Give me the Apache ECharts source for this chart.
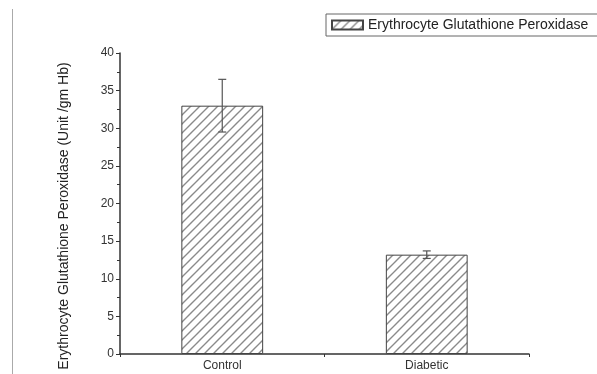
<!DOCTYPE html>
<html>
<head>
<meta charset="utf-8">
<script src="https://cdn.jsdelivr.net/npm/echarts@6/dist/echarts.min.js"></script>
<style>
  html, body { margin: 0; padding: 0; background: #fff; }
  #chart { width: 597px; height: 374px; }
</style>
</head>
<body>
<div id="chart"></div>
<script>
// Enzyme activity per group, with standard deviation
const categories = ['Control', 'Diabetic'];
const meanValues = [33.0, 13.2];
const errorValues = [3.5, 0.5];
const seriesName = 'Erythrocyte Glutathione Peroxidase';
const yAxisTitle = 'Erythrocyte Glutathione Peroxidase (Unit /gm Hb)';
const yTicks = [0, 5, 10, 15, 20, 25, 30, 35, 40];

// Diagonal "/" hatch tile used as the bar fill
function makeHatch() {
  const s = 9;
  const c = document.createElement('canvas');
  c.width = s; c.height = s;
  const g = c.getContext('2d');
  g.fillStyle = '#fff';
  g.fillRect(0, 0, s, s);
  g.strokeStyle = '#8a8a8a';
  g.lineWidth = 1.4;
  g.beginPath();
  g.moveTo(-1, s + 1); g.lineTo(s + 1, -1);
  g.moveTo(-1, 1); g.lineTo(1, -1);
  g.moveTo(s - 1, s + 1); g.lineTo(s + 1, s - 1);
  g.stroke();
  return { image: c, repeat: 'repeat' };
}
const hatch = makeHatch();

const chart = echarts.init(document.getElementById('chart'), null, { renderer: 'canvas' });

const errorData = categories.map((c, i) => [i, meanValues[i] - errorValues[i], meanValues[i] + errorValues[i]]);

chart.setOption({
  animation: false,
  textStyle: { fontFamily: 'Liberation Sans, Arial, sans-serif' },
  grid: { left: 120, right: 68, top: 53, bottom: 20 },
  legend: {
    left: 326,
    top: 14,
    data: [{ name: seriesName, icon: 'rect' }],
    itemWidth: 31,
    itemHeight: 9,
    itemGap: 5,
    padding: [4, 12, 4, 5],
    borderColor: '#666',
    borderWidth: 1,
    borderRadius: 0,
    textStyle: { fontSize: 14, color: '#222' }
  },
  xAxis: [
    {
      type: 'category',
      data: categories,
      axisLine: { lineStyle: { color: '#333', width: 1.5 } },
      axisTick: { alignWithLabel: true, length: 5, inside: false, lineStyle: { color: '#333' } },
      axisLabel: { fontSize: 12, color: '#333', margin: 6 },
      splitLine: { show: false }
    },
    {
      // companion axis carrying the short boundary ticks between groups
      type: 'category',
      data: categories,
      position: 'bottom',
      offset: 0,
      axisLine: { show: false },
      axisTick: { show: true, interval: 0, length: 3, lineStyle: { color: '#333' } },
      axisLabel: { show: false },
      splitLine: { show: false }
    }
  ],
  yAxis: {
    type: 'value',
    min: yTicks[0],
    max: yTicks[yTicks.length - 1],
    interval: yTicks[1] - yTicks[0],
    axisLine: { show: true, lineStyle: { color: '#333', width: 1.5 } },
    axisTick: { show: true, length: 4, lineStyle: { color: '#333' } },
    minorTick: { show: true, splitNumber: 2, length: 3, lineStyle: { color: '#333' } },
    axisLabel: { fontSize: 12, color: '#333', margin: 6 },
    splitLine: { show: false }
  },
  graphic: [
    {
      type: 'line',
      shape: { x1: 12.5, y1: 9, x2: 12.5, y2: 374 },
      style: { stroke: '#aaa', lineWidth: 1 }
    },
    {
      type: 'text',
      x: 64,
      y: 216,
      rotation: Math.PI / 2,
      style: {
        text: yAxisTitle,
        fontSize: 14,
        fill: '#222',
        fontFamily: 'Liberation Sans, Arial, sans-serif',
        textAlign: 'center',
        textVerticalAlign: 'middle'
      }
    }
  ],
  series: [
    {
      name: seriesName,
      type: 'bar',
      data: meanValues,
      barWidth: '40%',
      itemStyle: { color: hatch, borderColor: '#444', borderWidth: 1 }
    },
    {
      name: 'error',
      type: 'custom',
      data: errorData,
      z: 5,
      renderItem: function (params, api) {
        const x = api.value(0);
        const lo = api.coord([x, api.value(1)]);
        const hi = api.coord([x, api.value(2)]);
        const cap = 4;
        const style = { stroke: '#555', lineWidth: 1.2 };
        return {
          type: 'group',
          children: [
            { type: 'line', shape: { x1: lo[0], y1: lo[1], x2: hi[0], y2: hi[1] }, style },
            { type: 'line', shape: { x1: hi[0] - cap, y1: hi[1], x2: hi[0] + cap, y2: hi[1] }, style },
            { type: 'line', shape: { x1: lo[0] - cap, y1: lo[1], x2: lo[0] + cap, y2: lo[1] }, style }
          ]
        };
      }
    }
  ]
});
</script>
</body>
</html>
